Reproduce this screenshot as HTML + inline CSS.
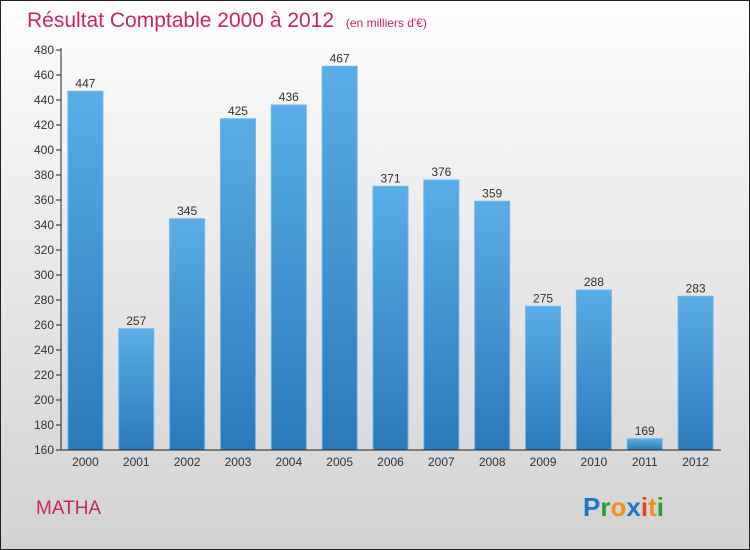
<!DOCTYPE html>
<html><head><meta charset="utf-8"><style>
body{margin:0;width:750px;height:550px;overflow:hidden}
svg{display:block;font-family:"Liberation Sans",sans-serif}
</style></head><body>
<svg width="750" height="550">
<defs>
<linearGradient id="bg" x1="0" y1="0" x2="0" y2="1"><stop offset="0" stop-color="#fdfdfd"/><stop offset="1" stop-color="#d2d2d2"/></linearGradient>
<linearGradient id="bar" x1="0" y1="0" x2="0" y2="1"><stop offset="0" stop-color="#5aade6"/><stop offset="1" stop-color="#2a7ab8"/></linearGradient>
</defs>
<rect x="0.5" y="0.5" width="749" height="549" fill="url(#bg)" stroke="#222"/>
<text x="27" y="27" font-size="21" fill="#c8285a">Résultat Comptable 2000 à 2012 <tspan font-size="12" dx="6">(en milliers d'€)</tspan></text>
<g id="plot"></g>
<text x="36" y="514" font-size="19" fill="#c8285a">MATHA</text>
<text x="583" y="516" font-size="26" font-weight="bold"><tspan fill="#1e78c8">P</tspan><tspan fill="#2a9a3a">r</tspan><tspan fill="#f39020">o</tspan><tspan fill="#1e78c8">x</tspan><tspan fill="#e84020">i</tspan><tspan fill="#f39020">t</tspan><tspan fill="#2a9a3a">i</tspan></text>
</svg>
<script>
const categories=["2000","2001","2002","2003","2004","2005","2006","2007","2008","2009","2010","2011","2012"];
const values=[447,257,345,425,436,467,371,376,359,275,288,169,283];
const ticks=[160,180,200,220,240,260,280,300,320,340,360,380,400,420,440,460,480];
const NS="http://www.w3.org/2000/svg";
const g=document.getElementById('plot');
const x0=60,x1=721,yMin=160,yMax=480,yTop=50,yBot=450;
const band=(x1-x0)/categories.length;
function y(v){return yBot-(v-yMin)/(yMax-yMin)*(yBot-yTop);}
function xc(i){return x0+band*(i+0.5);}
function mk(t,a){const e=document.createElementNS(NS,t);for(const k in a)e.setAttribute(k,a[k]);g.appendChild(e);return e;}
ticks.forEach(t=>{
 const l=mk('line',{x1:56,x2:61,y1:y(t),y2:y(t),stroke:'#222'});
 
 
 const tx=mk('text',{x:54,y:y(t)+4,'text-anchor':'end','font-size':12,fill:'#333'});
 tx.textContent=t;
 
 
});
values.forEach((v,i)=>{
 const r=mk('rect',{x:xc(i)-17.5,y:y(v),width:35,height:yBot-y(v),fill:'url(#bar)',stroke:'#6bb8ee','stroke-width':1});
 
 
 const t=mk('text',{x:xc(i),y:y(v)-4,'text-anchor':'middle','font-size':12,fill:'#333'});
 t.textContent=v;
 
 
 const c=mk('text',{x:xc(i),y:466,'text-anchor':'middle','font-size':12,fill:'#333'});
 c.textContent=categories[i];
 
 
});
const ya=mk('line',{x1:61,x2:61,y1:yTop-2,y2:yBot,stroke:'#222'});


const xa=mk('line',{x1:61,x2:x1,y1:yBot,y2:yBot,stroke:'#222'});


</script>
</body></html>
